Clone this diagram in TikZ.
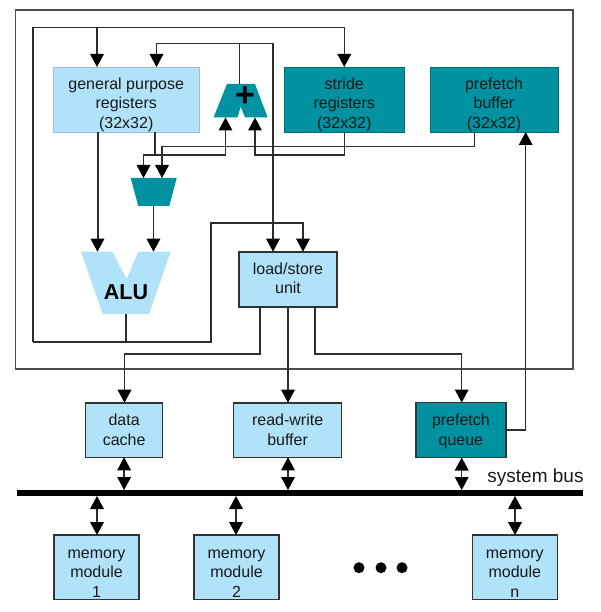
\documentclass[tikz,border=0pt]{standalone}
\usepackage{fontspec}
\setmainfont{Liberation Sans}
\usepackage{xcolor}
\usetikzlibrary{positioning,arrows.meta}

\definecolor{palebox}{RGB}{176,226,250}
\definecolor{tealbox}{RGB}{0,146,160}
\definecolor{wirecol}{RGB}{45,45,45}

\tikzset{
  boxtext/.style={font=\fontsize{16}{19.5}\selectfont,align=center,text=black!90},
  unit/.style={fill=palebox,draw=palebox!85!black,line width=0.6,outer sep=0,inner sep=0},
  unitdark/.style={unit,fill=tealbox,draw=tealbox!75!black},
  rimmed/.style={draw=black!80,line width=1.6},
  wire/.style={draw=wirecol,line width=1.4},
  bighead/.tip={Triangle[length=13pt,width=14pt,fill=black,line width=0pt]},
  flow/.style={wire,-bighead},
  duplex/.style={wire,bighead-bighead},
}

\begin{document}
\begin{tikzpicture}[x=1pt,y=-1pt]
  \useasboundingbox (0,0) rectangle (601,612);

  % cpu frame
  \node[draw=black!70,line width=1.2,minimum width=557.5,minimum height=359,outer sep=0] (cpu) at (294.25,189.5) {};

  % register files
  \node[unit,minimum width=145.5,minimum height=65.5,label={[boxtext,yshift=-5]center:general purpose\\registers\\(32x32)}] (gpr) at (126.25,99.75) {};
  \node[unitdark,minimum width=119.5,minimum height=65,label={[boxtext,yshift=-5]center:stride\\registers\\(32x32)}] (stride) at (344.25,99.5) {};
  \node[unitdark,minimum width=128,minimum height=65,label={[boxtext,yshift=-5]center:prefetch\\buffer\\(32x32)}] (pbuf) at (494,99.5) {};

  % adder, mux and alu
  \fill[tealbox] (227,84) -- (255,84) -- (267.7,117.5) -- (245,117.5) -- (240.7,106.7) -- (237.5,117.5) -- (213.5,117.5) -- cycle;
  \node[font=\bfseries\fontsize{34}{34}\selectfont,inner sep=0] (plus) at (245,97) {+};
  \fill[tealbox] (130.7,178) -- (176.7,178) -- (169.3,206) -- (138.3,206) -- cycle;
  \fill[palebox] (81,251.7) -- (112.3,251.7) -- (126.7,279) -- (138.3,251.7) -- (170.7,251.7) -- (149,314) -- (102.7,314) -- cycle;
  \node[font=\bfseries\fontsize{21.5}{21.5}\selectfont,inner sep=0] (alu) at (126,292) {ALU};
  \coordinate (adderout) at (239.3,84);
  \coordinate (adderA) at (225.5,117.5);
  \coordinate (adderB) at (255,117.5);
  \coordinate (muxA) at (143.5,178);
  \coordinate (muxB) at (162,178);
  \coordinate (muxout) at (153.5,206);
  \coordinate (aluA) at (97.5,251.7);
  \coordinate (aluB) at (153.5,251.7);
  \coordinate (aluout) at (126,314);

  % load/store and the units below it
  \node[unit,rimmed,minimum width=98,minimum height=55,label={[boxtext,yshift=1]center:load/store\\unit}] (lsu) at (288,279.2) {};
  \node[unit,rimmed,minimum width=77,minimum height=54.6,label={[boxtext]center:data\\cache}] (dcache) at (124.1,430) {};
  \node[unit,rimmed,minimum width=108,minimum height=54.6,label={[boxtext]center:read-write\\buffer}] (rwbuf) at (287.6,430) {};
  \node[unitdark,rimmed,minimum width=90.3,minimum height=55,label={[boxtext,yshift=-1.5]center:prefetch\\queue}] (pqueue) at (460.9,430) {};

  % bus and memory
  \node[fill=black,minimum width=565.7,minimum height=6,inner sep=0,outer sep=0] (sysbus) at (299.85,493) {};
  \node[boxtext,font=\fontsize{19}{20}\selectfont,inner sep=0] (buslabel) at (535.5,478) {system bus};
  \node[unit,rimmed,minimum width=85,minimum height=64.3,label={[boxtext,yshift=-6]center:memory\\module\\1}] (mema) at (96.5,567.2) {};
  \node[unit,rimmed,minimum width=85,minimum height=64.3,label={[boxtext,yshift=-6]center:memory\\module\\2}] (memb) at (236.5,567.2) {};
  \node[unit,rimmed,minimum width=85,minimum height=64.3,label={[boxtext,yshift=-6]center:memory\\module\\n}] (memn) at (514.8,567.2) {};
  \foreach \dotx/\dotname in {359/a,381/b,402/c}
    \node[circle,fill=black,minimum size=11,inner sep=0] (dot\dotname) at (\dotx,567.7) {};

  % feedback rail
  \coordinate (railtop) at (33,27.5);
  \coordinate (railbot) at (33,342);
  \draw[flow] (railbot) -- (railtop) -| (stride.north);
  \draw[flow,line width=2] (97,0 |- railtop) -- (97,0 |- gpr.north);
  \draw[wire] (aluout) -- (126,0 |- railbot);
  \draw[flow] (railbot) -| (211,223) -| (303,0 |- lsu.north);

  % adder output
  \draw[wire] (adderout) -- (239.3,43.7);
  \draw[flow] (239.3,43.7) -| (156.5,0 |- gpr.north);
  \draw[flow] (239.3,43.7) -| (273,0 |- lsu.north);

  % register outputs
  \draw[flow,line width=2] (97.5,0 |- gpr.south) -- (aluA);
  \draw[wire] (155,0 |- gpr.south) -- (155,155);
  \draw[flow] (155,155) -| (muxA);
  \draw[flow,line width=1.8] (155,155) -| (adderA);
  \draw[wire] (474.5,0 |- pbuf.south) |- (162,146.5);
  \draw[flow] (162,146.5) -- (muxB);
  \draw[flow] (stride.south) |- (255,155) -- (adderB);
  \draw[flow] (muxout) -- (aluB);

  % load/store outputs
  \draw[flow] (260,0 |- lsu.south) |- (124.5,354) -- (124.5,0 |- dcache.north);
  \draw[flow,line width=1.8] (288,0 |- lsu.south) -- (288,0 |- rwbuf.north);
  \draw[flow] (315,0 |- lsu.south) |- (461.7,354) -- (461.7,0 |- pqueue.north);
  \draw[flow] (pqueue.east) -| (525.7,0 |- pbuf.south);

  % bus links
  \draw[duplex] (124.1,0 |- dcache.south) -- (124.1,0 |- sysbus.north);
  \draw[duplex] (288,0 |- rwbuf.south) -- (288,0 |- sysbus.north);
  \draw[duplex] (461.7,0 |- pqueue.south) -- (461.7,0 |- sysbus.north);
  \draw[duplex,line width=2] (97,0 |- sysbus.south) -- (97,0 |- mema.north);
  \draw[duplex] (236,0 |- sysbus.south) -- (236,0 |- memb.north);
  \draw[duplex] (515,0 |- sysbus.south) -- (515,0 |- memn.north);
\end{tikzpicture}
\end{document}
